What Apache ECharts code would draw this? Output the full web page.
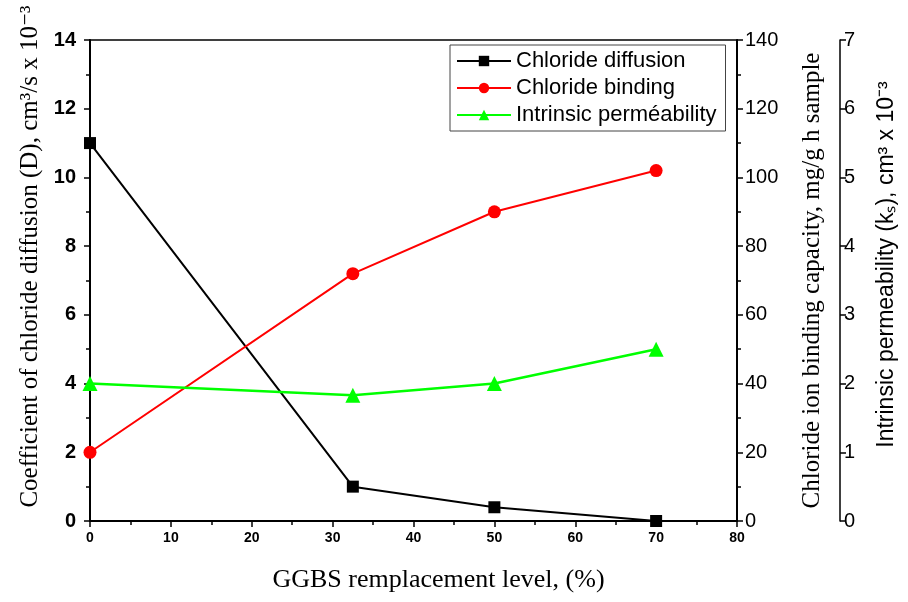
<!DOCTYPE html>
<html>
<head>
<meta charset="utf-8">
<script src="https://cdn.jsdelivr.net/npm/echarts@6/dist/echarts.min.js"></script>
<style>
  html, body { margin: 0; padding: 0; background: #fff; }
  #chart { width: 908px; height: 602px; }
</style>
</head>
<body>
<div id="chart"></div>
<script>
// GGBS replacement levels (%)
var ggbs = [0, 32.5, 50, 70];
// chloride diffusion, cm3/s x 10^-3 (left axis)
var diffusion = [11, 1, 0.4, 0];
// chloride binding capacity, mg/g h sample (right axis)
var binding = [20, 72, 90, 102];
// intrinsic permeability, cm3 x 10^-3 (outer right axis)
var permeability = [2.0, 1.83, 2.0, 2.5];

function pairs(ys) {
  return ggbs.map(function (x, i) { return [x, ys[i]]; });
}

var myChart = echarts.init(document.getElementById("chart"), null, { renderer: "canvas" });

var serif = "'Liberation Serif', 'DejaVu Serif', serif";
var sans = "'Liberation Sans', Arial, sans-serif";

var option = {
  animation: false,
  grid: {
    left: 90, right: 171, top: 40, bottom: 81,
    outerBoundsMode: "none",
    show: true, borderColor: "#000", borderWidth: 1.5, backgroundColor: "transparent"
  },
  legend: {
    orient: "vertical",
    left: 450, top: 45,
    itemWidth: 54, itemHeight: 13, itemGap: 5,
    padding: [5, 9, 5, 6],
    borderColor: "#444", borderWidth: 1,
    textStyle: { fontFamily: sans, fontSize: 22, color: "#000" },
    data: ["Chloride diffusion", "Chloride binding", "Intrinsic perméability"]
  },
  xAxis: {
    type: "value", min: 0, max: 80, interval: 10,
    name: "GGBS remplacement level, (%)",
    nameLocation: "middle", nameGap: 46,
    nameTextStyle: { fontFamily: serif, fontSize: 26, color: "#000", padding: [0, 0, 0, 50] },
    axisLine: { lineStyle: { color: "#000", width: 2 } },
    axisTick: { length: 6, lineStyle: { color: "#000", width: 1.5 } },
    minorTick: { show: true, splitNumber: 2, length: 4, lineStyle: { color: "#000", width: 1.5 } },
    axisLabel: { fontFamily: sans, fontWeight: "bold", fontSize: 14, color: "#000", margin: 10 },
    splitLine: { show: false }
  },
  yAxis: [
    {
      type: "value", min: 0, max: 14, interval: 2, position: "left",
      name: "Coefficient of chloride diffusion (D), cm³/s x 10⁻³",
      nameLocation: "middle", nameGap: 44, nameRotate: 90,
      nameTextStyle: { fontFamily: serif, fontSize: 25, color: "#000", padding: [0, 0, 0, 48] },
      axisLine: { show: true, lineStyle: { color: "#000", width: 2 } },
      axisTick: { show: true, length: 6, lineStyle: { color: "#000", width: 1.5 } },
      minorTick: { show: true, splitNumber: 2, length: 4, lineStyle: { color: "#000", width: 1.5 } },
      axisLabel: { fontFamily: sans, fontWeight: "bold", fontSize: 20, color: "#000", margin: 14 },
      splitLine: { show: false }
    },
    {
      type: "value", min: 0, max: 140, interval: 20, position: "right",
      name: "Chloride ion binding capacity, mg/g h sample",
      nameLocation: "middle", nameGap: 63, nameRotate: 90,
      nameTextStyle: { fontFamily: serif, fontSize: 25, color: "#000" },
      axisLine: { show: true, lineStyle: { color: "#000", width: 2 } },
      axisTick: { show: true, length: 6, lineStyle: { color: "#000", width: 1.5 } },
      minorTick: { show: true, splitNumber: 2, length: 4, lineStyle: { color: "#000", width: 1.5 } },
      axisLabel: { fontFamily: sans, fontSize: 20, color: "#000", margin: 8 },
      splitLine: { show: false }
    },
    {
      type: "value", min: 0, max: 7, interval: 1, position: "right", offset: 103,
      name: "Intrinsic permeability (kₛ), cm³ x 10⁻³",
      nameLocation: "middle", nameGap: 35, nameRotate: 90,
      nameTextStyle: { fontFamily: sans, fontSize: 23, color: "#000", padding: [0, 0, 0, 32] },
      axisLine: { show: true, lineStyle: { color: "#000", width: 1.5 } },
      axisTick: { show: true, length: 6, lineStyle: { color: "#000", width: 1.5 } },
      axisLabel: { fontFamily: sans, fontSize: 20, color: "#000", margin: 4 },
      splitLine: { show: false }
    }
  ],
  series: [
    {
      name: "Chloride diffusion", type: "line", yAxisIndex: 0,
      data: pairs(diffusion),
      symbol: "rect", symbolSize: 12,
      itemStyle: { color: "#000" },
      lineStyle: { color: "#000", width: 2 }
    },
    {
      name: "Chloride binding", type: "line", yAxisIndex: 1,
      data: pairs(binding),
      symbol: "circle", symbolSize: 13,
      itemStyle: { color: "#ff0000" },
      lineStyle: { color: "#ff0000", width: 2 }
    },
    {
      name: "Intrinsic perméability", type: "line", yAxisIndex: 2,
      data: pairs(permeability),
      symbol: "triangle", symbolSize: 15,
      itemStyle: { color: "#00ff00" },
      lineStyle: { color: "#00ff00", width: 2.5 }
    }
  ]
};

option && myChart.setOption(option);
window.addEventListener("resize", myChart.resize);
</script>
</body>
</html>
